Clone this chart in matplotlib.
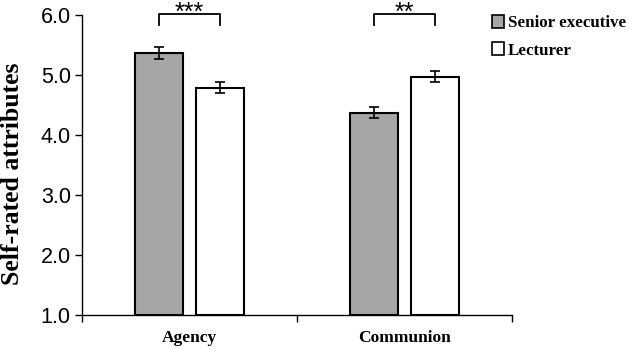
import numpy as np
import matplotlib.pyplot as plt

categories = ['Agency', 'Communion']
groups = ['Senior executive', 'Lecturer']
senior = [5.37, 4.37]
senior_err = [0.10, 0.09]
lecturer = [4.79, 4.97]
lecturer_err = [0.09, 0.09]
stars = ['***', '**']

fig = plt.figure(figsize=(6.38, 3.49), dpi=100)
ax = fig.add_axes([0.1285, 0.0974, 0.674, 0.8596])

x = np.arange(len(categories)) + 0.5
w = 0.225
off = 0.143
err_kw = dict(ecolor='black', elinewidth=1.2, capsize=3.5, capthick=1.2)
ax.bar(x - off, np.array(senior) - 1, w, bottom=1, yerr=senior_err,
       color='#a6a6a6', edgecolor='black', linewidth=1.5, label=groups[0],
       error_kw=err_kw, zorder=2)
ax.bar(x + off, np.array(lecturer) - 1, w, bottom=1, yerr=lecturer_err,
       color='white', edgecolor='black', linewidth=1.5, label=groups[1],
       error_kw=err_kw, zorder=2)

# significance brackets
for xi, s in zip(x, stars):
    x0, x1 = xi - off, xi + off
    ax.plot([x0, x0, x1, x1], [5.83, 6.025, 6.025, 5.83], color='black',
            lw=1.3, clip_on=False)
    ax.text(xi, 5.925, s, ha='center', va='baseline', fontsize=18,
            family='Liberation Sans', clip_on=False)

ax.set_xlim(0, 2)
ax.set_ylim(1, 6)
ax.set_yticks(np.arange(1, 7))
ax.set_yticklabels([f'{v:.1f}' for v in np.arange(1, 7)],
                   family='Liberation Sans', fontsize=15.5)
ax.set_xticks([0, 1, 2])
ax.set_xticklabels([])
ax.set_xticks(x, minor=True)
ax.set_xticklabels(categories, minor=True, family='Liberation Serif',
                   fontweight='bold', fontsize=12.5)
ax.tick_params(axis='x', which='minor', length=0, pad=11)
ax.tick_params(axis='x', which='major', length=5, width=1, direction='out')
ax.tick_params(axis='y', length=5, width=1, direction='out', pad=3)
ax.spines['top'].set_visible(False)
ax.spines['right'].set_visible(False)
ax.spines['left'].set_linewidth(1)
ax.spines['bottom'].set_linewidth(1)

fig.text(12.5 / 638, 0.503, 'Self-rated attributes', rotation=90,
         ha='center', va='center', family='Liberation Serif',
         fontweight='bold', fontsize=18.5)

leg = fig.legend(loc='upper left', bbox_to_anchor=(0.752, 0.99),
                 frameon=False, prop={'family': 'Liberation Serif',
                                      'weight': 'bold', 'size': 12.2},
                 handlelength=0.75, handleheight=0.75, handletextpad=0.2,
                 labelspacing=0.65, borderpad=0.2)
for h in leg.legend_handles:
    h.set_linewidth(1.2)

fig.savefig('out.png', dpi=100)
